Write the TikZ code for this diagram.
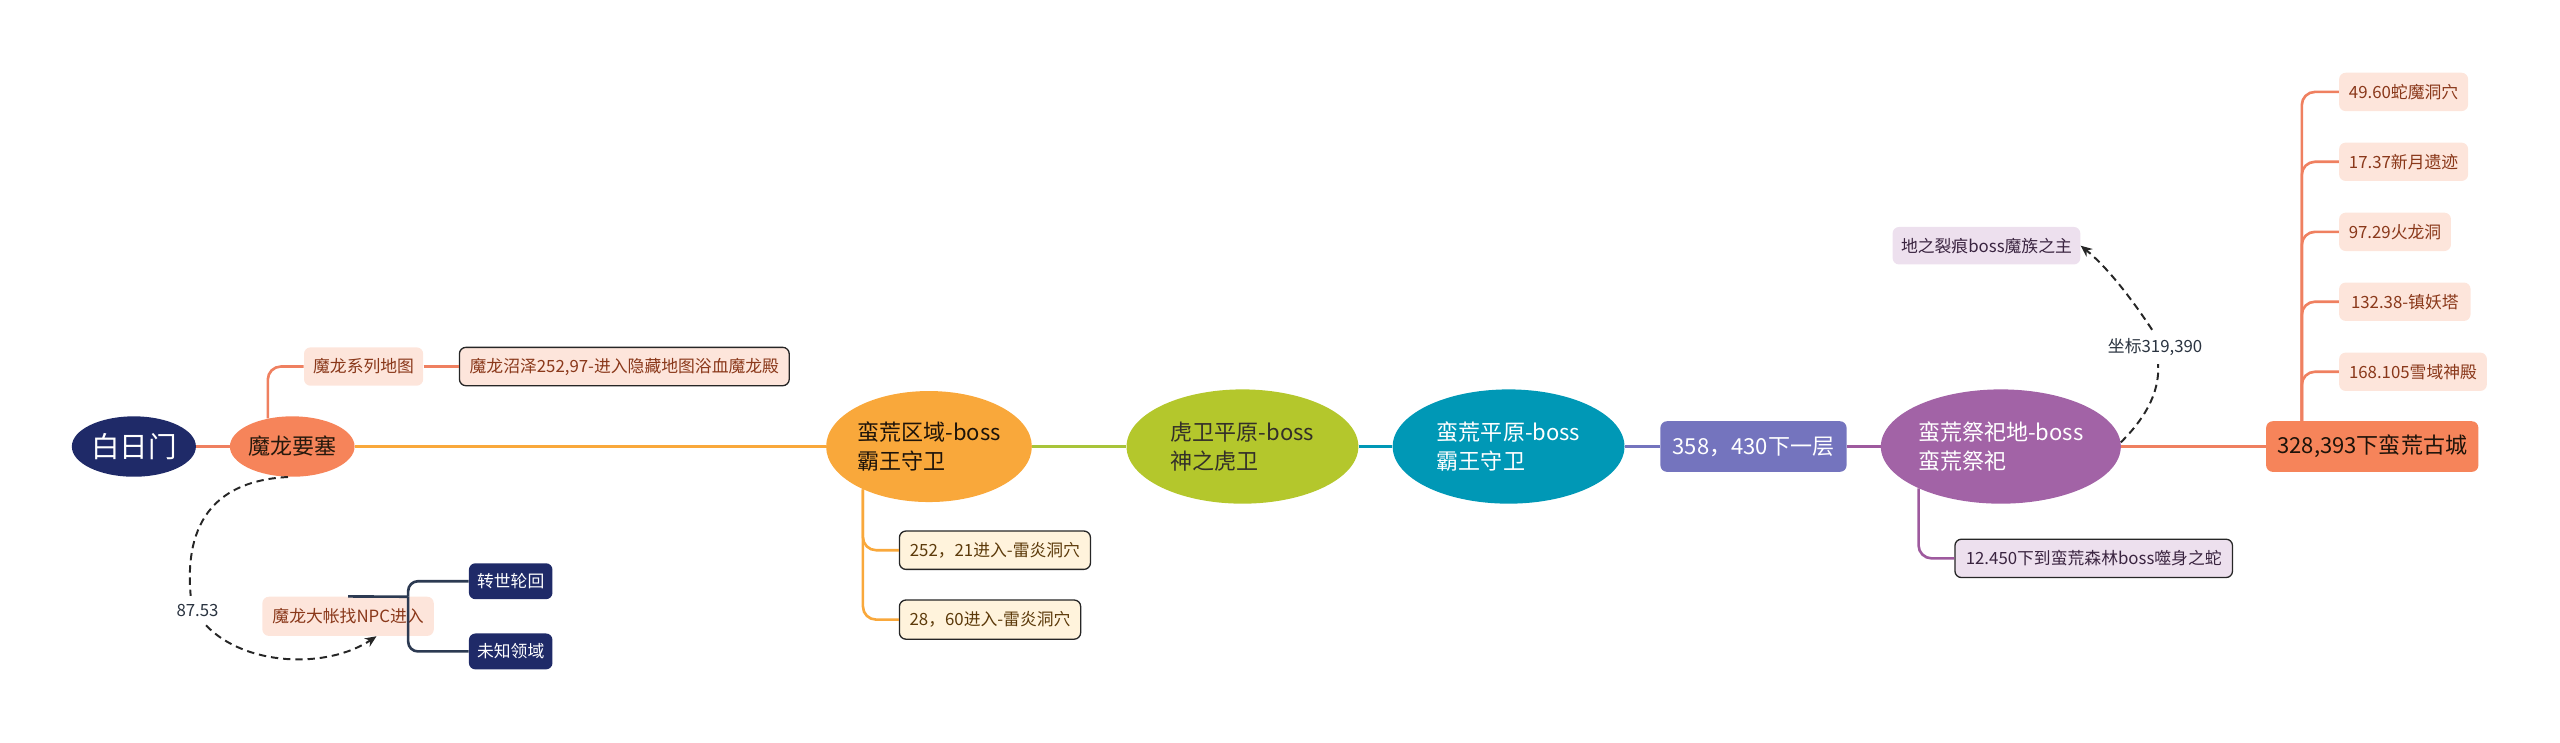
\documentclass[tikz,border=0pt]{standalone}
\usepackage{fontspec}
\setmainfont{Noto Sans CJK SC}
\usetikzlibrary{shapes.geometric,arrows.meta,calc}
\definecolor{cNavy}{HTML}{1F2A68}
\definecolor{cCoral}{HTML}{F6845A}
\definecolor{cCoralLine}{HTML}{EF8060}
\definecolor{cAmber}{HTML}{F9A83B}
\definecolor{cLime}{HTML}{B4C72C}
\definecolor{cLimeLine}{HTML}{A8C43A}
\definecolor{cTeal}{HTML}{0098B6}
\definecolor{cSlate}{HTML}{7474BE}
\definecolor{cPlum}{HTML}{A263A6}
\definecolor{cPlumLine}{HTML}{9E5A9E}
\definecolor{cPinkBg}{HTML}{FDE5DB}
\definecolor{cPinkText}{HTML}{8A381A}
\definecolor{cCreamBg}{HTML}{FFF3DC}
\definecolor{cCreamText}{HTML}{5C3A0A}
\definecolor{cLavBg}{HTML}{EDE0EE}
\definecolor{cLavText}{HTML}{3A2440}
\definecolor{cDark}{HTML}{2C3A52}
\definecolor{cLabel}{HTML}{2A3340}
\begin{document}
\begin{tikzpicture}[x=1pt,y=-1pt,
  ell/.style={ellipse, inner sep=0pt, align=left, font=\fontsize{13.5}{17.5}\selectfont},
  bigrect/.style={rectangle, rounded corners=4, inner sep=0pt, font=\fontsize{13.5}{16}\selectfont},
  sbox/.style={rectangle, rounded corners=4, inner xsep=5pt, inner ysep=0pt, minimum height=23.5, anchor=west, font=\fontsize{10.3}{12}\selectfont},
  pinkbox/.style={sbox, fill=cPinkBg, text=cPinkText},
  pinkframe/.style={sbox, fill=cPinkBg, text=cPinkText, draw=black!85, line width=0.8pt},
  creambox/.style={sbox, fill=cCreamBg, text=cCreamText, draw=black!85, line width=0.8pt},
  lavbox/.style={sbox, fill=cLavBg, text=cLavText},
  lavframe/.style={sbox, fill=cLavBg, text=cLavText, draw=black!85, line width=0.8pt},
  navybox/.style={sbox, fill=cNavy, text=white, minimum height=22},
  mainline/.style={line width=2.2pt},
  branch/.style={line width=1.6pt, rounded corners=8},
  lbl/.style={inner xsep=3pt, inner ysep=5pt, fill=white, text=cLabel, font=\fontsize{10.3}{12}\selectfont},
  relation/.style={dashed, dash pattern=on 4.5pt off 3pt, line width=1.2pt, black!85, -{Stealth[length=7pt,width=6pt]}}
]
\useasboundingbox (0,0) rectangle (1568,455);

% main nodes
\node[ell, fill=cNavy, text=white, minimum width=76, minimum height=37, font=\fontsize{17.5}{20}\selectfont] (bai) at (82,273.5) {白日门};
\node[ell, fill=cCoral, text=black!80!brown, minimum width=76, minimum height=37] (mlys) at (179,273.5) {魔龙要塞};
\node[ell, fill=cAmber, text=black!85!brown, minimum width=126, minimum height=68] (mhqy) at (569,273.5) {蛮荒区域-boss\\霸王守卫};
\node[ell, fill=cLime, text=black!85!olive, minimum width=142, minimum height=70] (hwpy) at (761,273.5) {虎卫平原-boss\\神之虎卫};
\node[ell, fill=cTeal, text=white, minimum width=142, minimum height=70] (mhpy) at (924,273.5) {蛮荒平原-boss\\霸王守卫};
\node[bigrect, fill=cSlate, text=white, minimum width=114, minimum height=31] (r358) at (1074,273.5) {358，430下一层};
\node[ell, fill=cPlum, text=white, minimum width=147, minimum height=70] (mhjs) at (1225.5,273.5) {蛮荒祭祀地-boss\\蛮荒祭祀};
\node[bigrect, fill=cCoral, text=black!85!brown, minimum width=130, minimum height=31] (gc) at (1453,273.5) {328,393下蛮荒古城};

% secondary nodes
\node[pinkbox, minimum width=73] (mlxl) at (186,224.5) {魔龙系列地图};
\node[pinkframe, minimum width=202] (mlzz) at (281,224.5) {魔龙沼泽252,97-进入隐藏地图浴血魔龙殿};
\node[pinkbox, minimum width=105, minimum height=24] (npc) at (160.5,377.5) {魔龙大帐找NPC进入};
\node[navybox, minimum width=51] (zslh) at (287,356) {转世轮回};
\node[navybox, minimum width=51] (wzly) at (287,399) {未知领域};
\node[creambox, minimum width=117] (cave1) at (550.5,337) {252，21进入-雷炎洞穴};
\node[creambox, minimum width=111, minimum height=24] (cave2) at (550.5,379.5) {28，60进入-雷炎洞穴};
\node[lavbox, minimum width=115, minimum height=23] (dlh) at (1159,150.5) {地之裂痕boss魔族之主};
\node[lavframe, minimum width=170] (snake) at (1197,342) {12.450下到蛮荒森林boss噬身之蛇};
\node[pinkbox, minimum width=79] (c1) at (1432.5,56.3) {49.60蛇魔洞穴};
\node[pinkbox, minimum width=79] (c2) at (1432.5,99.1) {17.37新月遗迹};
\node[pinkbox, minimum width=68.5] (c3) at (1432.5,142) {97.29火龙洞};
\node[pinkbox, minimum width=80.5] (c4) at (1432.5,184.8) {132.38-镇妖塔};
\node[pinkbox, minimum width=90.5] (c5) at (1432.5,227.7) {168.105雪域神殿};

% labels of relations
\node[lbl] (l1) at (121,374) {87.53};
\node[lbl] (l2) at (1320,212.5) {坐标319,390};

% main connectors
\draw[mainline, cCoralLine] (bai.east) -- (mlys.west);
\draw[mainline, cAmber] (mlys.east) -- (mhqy.west);
\draw[mainline, cLimeLine] (mhqy.east) -- (hwpy.west);
\draw[mainline, cTeal] (hwpy.east) -- (mhpy.west);
\draw[mainline, cSlate] (mhpy.east) -- (r358.west);
\draw[mainline, cPlumLine] (r358.east) -- (mhjs.west);
\draw[mainline, cCoralLine] (mhjs.east) -- (gc.west);

% branches
\draw[branch, cCoralLine] (mlys.131) |- (mlxl.west);
\draw[branch, cCoralLine] (mlxl.east) -- (mlzz.west);
\draw[branch, cAmber] (mhqy.213) |- (cave1.west);
\draw[branch, cAmber] (mhqy.213) |- (cave2.west);
\draw[branch, cPlumLine] (mhjs.207) |- (snake.west);
\foreach \c in {c1,c2,c3,c4,c5}{
  \draw[branch, cCoralLine] (gc.160) |- (\c.west);
}
\coordinate (nj) at (250,365.5);
\draw[line width=1.6pt, cDark] (npc.north) -- (nj);
\draw[branch, cDark, rounded corners=6] (nj) |- (zslh.west);
\draw[branch, cDark, rounded corners=6] (nj) |- (wzly.west);

% relations (dashed)
\draw[relation, -] (mlys.262) .. controls (140,294) and (112,312) .. (l1.115);
\draw[relation] (l1.-60) .. controls (150,408) and (200,410) .. (npc.-35);
\draw[relation, -] (mhjs.2) .. controls (1312,258) and (1323,242) .. (l2.-80);
\draw[relation] (l2.100) .. controls (1305,182) and (1290,163) .. (dlh.east);
\end{tikzpicture}
\end{document}
